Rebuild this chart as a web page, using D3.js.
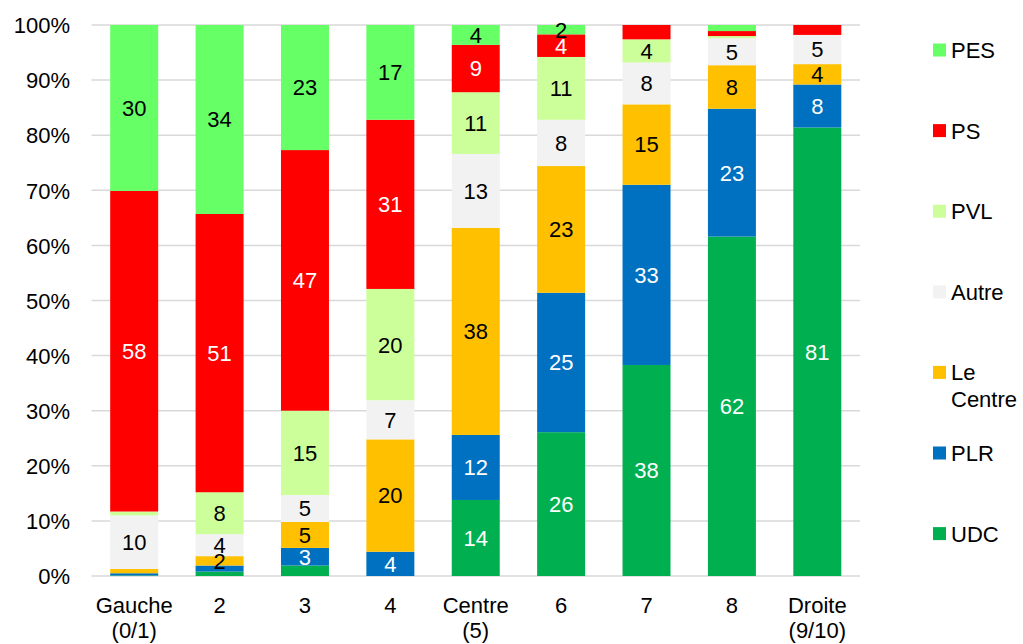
<!DOCTYPE html>
<html><head><meta charset="utf-8">
<script src="https://cdn.jsdelivr.net/npm/d3@7"></script>
<style>body{margin:0;background:#fff;} text{font-family:"Liberation Sans",Arial,sans-serif;}</style>
</head><body><svg id="c" width="1023" height="644"></svg>
<script>
const categories = [["Gauche","(0/1)"],["2"],["3"],["4"],["Centre","(5)"],["6"],["7"],["8"],["Droite","(9/10)"]];
const seriesNames = ["UDC","PLR","Le Centre","Autre","PVL","PS","PES"];
const UDC    = [0.1, 0.8, 1.9, 0,    13.8, 26.1, 38.3, 61.6, 81.4];
const PLR    = [0.4, 1.1, 3.2, 4.4,  11.8, 25.3, 32.7, 23.2, 7.8];
const Centre = [0.8, 1.7, 4.7, 20.4, 37.6, 23.0, 14.6, 7.9,  3.7];
const Autre  = [9.7, 4.0, 4.9, 7.1,  13.4, 8.4,  7.6,  4.9,  5.3];
const PVL    = [0.7, 7.6, 15.3, 20.2, 11.2, 11.4, 4.2, 0.4,  0];
const PS     = [58.2, 50.5, 47.3, 30.7, 8.6, 4.1, 2.6, 0.9, 1.8];
const PES    = [30.1, 34.3, 22.7, 17.2, 3.6, 1.7, 0,   1.1,  0];
const colors = ["#00B050","#0070C0","#FFC000","#F2F2F2","#CCFF99","#FF0000","#66FF66"];
const labelColors = ["#fff","#fff","#000","#000","#000","#fff","#000"];
const yTicks = [0,10,20,30,40,50,60,70,80,90,100];
const hiddenLabels = [[2,"UDC"],[6,"PS"],[8,"PS"]];
const legendOrder = ["PES","PS","PVL","Autre","Le Centre","PLR","UDC"];

const seriesValues = [UDC, PLR, Centre, Autre, PVL, PS, PES];
const rows = categories.map((c,i)=>{
  const r = {key:i};
  seriesNames.forEach((s,j)=> r[s]=seriesValues[j][i]);
  return r;
});
const stack = d3.stack().keys(seriesNames)(rows);

const svg = d3.select("#c");
const x = d3.scaleBand().domain(d3.range(categories.length)).range([91.5,860]).paddingInner(0.438).paddingOuter(0.219);
const y = d3.scaleLinear().domain([0,100]).range([576,25]);

// gridlines
svg.append("g").selectAll("line").data(yTicks).join("line")
  .attr("x1",91.5).attr("x2",860).attr("y1",d=>y(d)).attr("y2",d=>y(d))
  .attr("stroke","#d9d9d9").attr("stroke-width",1.5);

// y axis labels
const yAxis = d3.axisLeft(y).tickValues(yTicks).tickFormat(d=>d+"%").tickSize(0).tickPadding(0);
const ya = svg.append("g").attr("transform","translate(70,0)").call(yAxis);
ya.select(".domain").remove();
ya.selectAll("text").attr("font-size",22).attr("fill","#000").attr("font-family","Liberation Sans, Arial, sans-serif").attr("dy","0.35em");

// bars
const layers = svg.append("g").selectAll("g").data(stack).join("g").attr("fill",(d,i)=>colors[i]);
layers.selectAll("rect").data(d=>d).join("rect")
  .attr("x",(d,i)=>x(i)).attr("width",x.bandwidth())
  .attr("y",d=>y(d[1])).attr("height",d=>Math.max(0,y(d[0])-y(d[1])));

// value labels
stack.forEach((layer,si)=>{
  const name = seriesNames[si];
  layer.forEach((d,i)=>{
    const v = d[1]-d[0];
    if (v < 1.5) return;
    if (hiddenLabels.some(h=>h[0]===i && h[1]===name)) return;
    svg.append("text").attr("x",x(i)+x.bandwidth()/2).attr("y",y((d[0]+d[1])/2))
      .attr("dy","0.36em").attr("text-anchor","middle").attr("font-size",22)
      .attr("fill",labelColors[si]).text(Math.round(v));
  });
});

// x labels
const xg = svg.append("g");
categories.forEach((c,i)=>{
  const t = xg.append("text").attr("text-anchor","middle").attr("font-size",22).attr("fill","#000");
  c.forEach((line,k)=> t.append("tspan").attr("x",x(i)+x.bandwidth()/2).attr("y",613+k*25).text(line));
});

// legend
const lg = svg.append("g");
legendOrder.forEach((name,k)=>{
  const si = seriesNames.indexOf(name);
  const cy = 50 + k*80.6;
  lg.append("rect").attr("x",933).attr("y",cy-6.5).attr("width",13).attr("height",13).attr("fill",colors[si]);
  const t = lg.append("text").attr("font-size",22).attr("fill","#000");
  const parts = name==="Le Centre" ? ["Le","Centre"] : [name];
  parts.forEach((p,j)=> t.append("tspan").attr("x",951).attr("y",cy+8+j*27).text(p));
});
</script></body></html>
